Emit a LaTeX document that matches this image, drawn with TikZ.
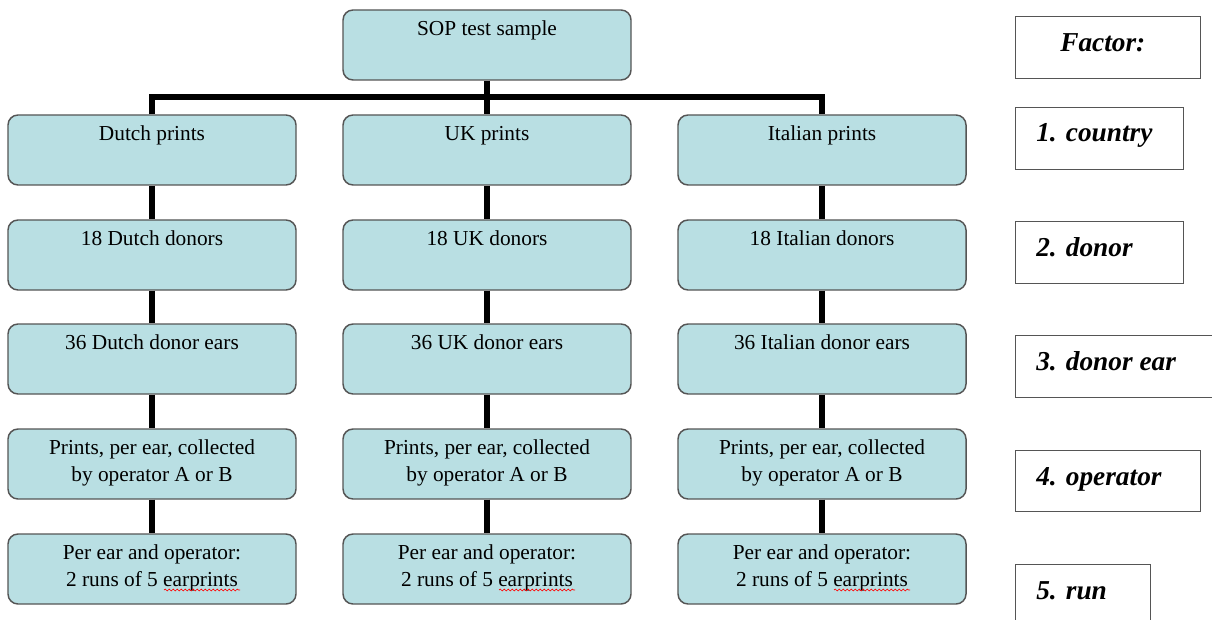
\documentclass[tikz,border=0pt]{standalone}
\usepackage{fontspec}
\setmainfont{Liberation Serif}
\usetikzlibrary{decorations.pathmorphing}
\definecolor{boxfill}{RGB}{185,223,227}
\definecolor{boxline}{RGB}{85,85,85}
\begin{document}
\begin{tikzpicture}[x=0.75pt,y=-0.75pt,
  stage/.style={draw=boxline, line width=1.1pt, fill=boxfill, rounded corners=7.5pt,
    minimum width=216pt, minimum height=52.5pt, inner sep=0pt},
  stagetext/.style={anchor=north, inner sep=0pt, align=center,
    font=\fontsize{16}{20}\selectfont},
  link/.style={line width=4.5pt},
  factorbox/.style 2 args={draw=boxline, line width=1.1pt, fill=white, anchor=north west,
    inner sep=0pt, minimum width=#1*0.75pt, minimum height=#2*0.75pt},
  factortext/.style={anchor=base west, inner sep=0pt,
    font=\fontsize{20.5}{24}\selectfont\bfseries\itshape},
  wavy/.style={draw=red, line width=0.5pt, decorate,
    decoration={snake, amplitude=0.7pt, segment length=3pt}}]
\useasboundingbox (0,0) rectangle (1212,620);

% ---------- stage boxes ----------
\node[stage] (top) at (487,45) {};
\node[stagetext] (topt) at ([yshift=-7.5pt]top.north) {\rule{0pt}{12pt}SOP test sample};

\node[stage] (c1) at (152,150) {};
\node[stagetext] (c1t) at ([yshift=-7.5pt]c1.north) {\rule{0pt}{12pt}Dutch prints};
\node[stage] (u1) at (487,150) {};
\node[stagetext] (u1t) at ([yshift=-7.5pt]u1.north) {\rule{0pt}{12pt}UK prints};
\node[stage] (i1) at (822,150) {};
\node[stagetext] (i1t) at ([yshift=-7.5pt]i1.north) {\rule{0pt}{12pt}Italian prints};

\node[stage] (c2) at (152,255) {};
\node[stagetext] (c2t) at ([yshift=-7.5pt]c2.north) {\rule{0pt}{12pt}18 Dutch donors};
\node[stage] (u2) at (487,255) {};
\node[stagetext] (u2t) at ([yshift=-7.5pt]u2.north) {\rule{0pt}{12pt}18 UK donors};
\node[stage] (i2) at (822,255) {};
\node[stagetext] (i2t) at ([yshift=-7.5pt]i2.north) {\rule{0pt}{12pt}18 Italian donors};

\node[stage] (c3) at (152,359) {};
\node[stagetext] (c3t) at ([yshift=-7.5pt]c3.north) {\rule{0pt}{12pt}36 Dutch donor ears};
\node[stage] (u3) at (487,359) {};
\node[stagetext] (u3t) at ([yshift=-7.5pt]u3.north) {\rule{0pt}{12pt}36 UK donor ears};
\node[stage] (i3) at (822,359) {};
\node[stagetext] (i3t) at ([yshift=-7.5pt]i3.north) {\rule{0pt}{12pt}36 Italian donor ears};

\node[stage] (c4) at (152,464) {};
\node[stagetext] (c4t) at ([yshift=-7.5pt]c4.north) {\rule{0pt}{12pt}Prints, per ear, collected\\by operator A or B};
\node[stage] (u4) at (487,464) {};
\node[stagetext] (u4t) at ([yshift=-7.5pt]u4.north) {\rule{0pt}{12pt}Prints, per ear, collected\\by operator A or B};
\node[stage] (i4) at (822,464) {};
\node[stagetext] (i4t) at ([yshift=-7.5pt]i4.north) {\rule{0pt}{12pt}Prints, per ear, collected\\by operator A or B};

\node[stage] (c5) at (152,569) {};
\node[stagetext] (c5t) at ([yshift=-7.5pt]c5.north) {\rule{0pt}{12pt}Per ear and operator:\\2 runs of 5 earprints};
\node[stage] (u5) at (487,569) {};
\node[stagetext] (u5t) at ([yshift=-7.5pt]u5.north) {\rule{0pt}{12pt}Per ear and operator:\\2 runs of 5 earprints};
\node[stage] (i5) at (822,569) {};
\node[stagetext] (i5t) at ([yshift=-7.5pt]i5.north) {\rule{0pt}{12pt}Per ear and operator:\\2 runs of 5 earprints};

% spell-check underlines
\draw[wavy] (164,590) -- (240,590);
\draw[wavy] (499,590) -- (575,590);
\draw[wavy] (834,590) -- (910,590);

% ---------- connectors ----------
\coordinate (bus) at (487,97);
\draw[link] (top.south) -- (u1.north);
\draw[link] (c1.north) |- (bus) -| (i1.north);
\foreach \col in {c,u,i}{
  \draw[link] (\col1.south) -- (\col2.north);
  \draw[link] (\col2.south) -- (\col3.north);
  \draw[link] (\col3.south) -- (\col4.north);
  \draw[link] (\col4.south) -- (\col5.north);
}

% ---------- factor boxes ----------
\node[factorbox={185}{62}] (f0) at (1015,16) {};
\node[factortext] (f0t) at (1060,52) {Factor:};
\node[factorbox={168}{62}] (f1) at (1015,107) {};
\node[factortext] (f1t) at (1036,142) {1. country};
\node[factorbox={168}{62}] (f2) at (1015,221) {};
\node[factortext] (f2t) at (1036,256) {2. donor};
\node[factorbox={210}{62}] (f3) at (1015,335) {};
\node[factortext] (f3t) at (1036,370) {3. donor ear};
\node[factorbox={185}{61}] (f4) at (1015,450) {};
\node[factortext] (f4t) at (1036,485) {4. operator};
\node[factorbox={135}{70}] (f5) at (1015,564) {};
\node[factortext] (f5t) at (1036,599) {5. run};
\end{tikzpicture}
\end{document}
